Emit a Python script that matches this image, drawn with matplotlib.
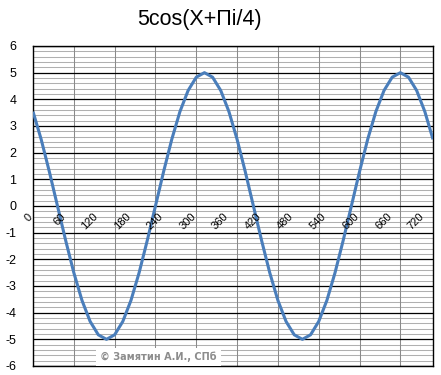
import matplotlib
matplotlib.use("Agg")
import matplotlib.pyplot as plt
import matplotlib.transforms as mtransforms
import numpy as np

# Data (x in degrees, step 15)
angles = [0, 15, 30, 45, 60, 75, 90, 105, 120, 135, 150, 165, 180, 195, 210, 225,
          240, 255, 270, 285, 300, 315, 330, 345, 360, 375, 390, 405, 420, 435, 450,
          465, 480, 495, 510, 525, 540, 555, 570, 585, 600, 615, 630, 645, 660, 675,
          690, 705, 720, 735]
values = [3.54, 2.50, 1.29, 0.00, -1.29, -2.50, -3.54, -4.33, -4.83, -5.00, -4.83,
          -4.33, -3.54, -2.50, -1.29, 0.00, 1.29, 2.50, 3.54, 4.33, 4.83, 5.00, 4.83,
          4.33, 3.54, 2.50, 1.29, 0.00, -1.29, -2.50, -3.54, -4.33, -4.83, -5.00, -4.83,
          -4.33, -3.54, -2.50, -1.29, 0.00, 1.29, 2.50, 3.54, 4.33, 4.83, 5.00, 4.83,
          4.33, 3.54, 2.50]
xtick_vals = [0, 60, 120, 180, 240, 300, 360, 420, 480, 540, 600, 660, 720]
xtick_labels = ["0", "60", "120", "180", "240", "300", "360", "420", "480", "540",
                "600", "660", "720"]
xgrid_vals = [0, 75, 150, 225, 300, 375, 450, 525, 600, 675]
ytick_vals = [-6, -5, -4, -3, -2, -1, 0, 1, 2, 3, 4, 5, 6]
title = "5cos(X+Пi/4)"
watermark = "© Замятин А.И., СПб"

plt.rcParams['font.family'] = ['Liberation Sans', 'DejaVu Sans']

fig = plt.figure(figsize=(4.41, 3.75), dpi=100)
ax = fig.add_axes([33 / 441, 9 / 375, 400 / 441, 320 / 375])
ax.set_xlim(0, 735)
ax.set_ylim(-6, 6)

# minor horizontal gridlines
for v in np.arange(-6, 6.001, 0.2):
    ax.axhline(v, color='#b0b0b0', lw=0.75, zorder=1, snap=True)
# vertical gridlines
for v in xgrid_vals:
    ax.axvline(v, color='#8a8a8a', lw=0.75, zorder=1.5, snap=True)
# major horizontal gridlines
for v in ytick_vals:
    ax.axhline(v, color='black', lw=0.9, zorder=2, snap=True)

ax.plot(angles, values, color='#4a7ebb', lw=2.2, zorder=4, solid_capstyle='butt')

for s in ax.spines.values():
    s.set_color('black')
    s.set_linewidth(1.0)

ax.set_xticks([])
ax.set_yticks(ytick_vals)
ax.set_yticklabels([str(v) for v in ytick_vals], fontsize=9)
ax.tick_params(axis='y', length=0, pad=12)

off = mtransforms.offset_copy(ax.transData, fig=fig, x=1, y=-4, units='points')
for v, lab in zip(xtick_vals, xtick_labels):
    ax.text(v, 0, lab, rotation=45, ha='right', va='top', fontsize=8,
            transform=off, zorder=5)

ax.text(230, -5.66, watermark, fontsize=7, color='#8c8c8c', ha='center', va='center',
        family=['DejaVu Sans'], fontweight='bold', zorder=6,
        bbox=dict(facecolor='white', edgecolor='none', pad=3))

fig.text(199 / 441, 1 - 20 / 375, title, fontsize=15.5, ha='center', va='center')

fig.savefig('out.png', dpi=100)
